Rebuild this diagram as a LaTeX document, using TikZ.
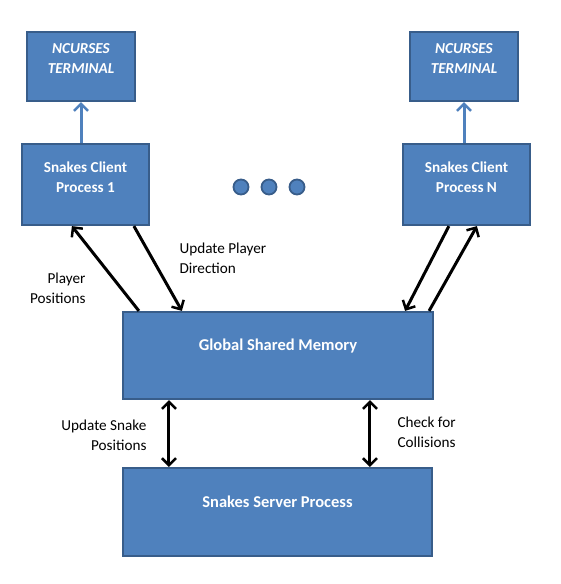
\documentclass[tikz,border=0pt]{standalone}
\usepackage{fontspec}
\setmainfont{Carlito}
\usetikzlibrary{arrows.meta}
\definecolor{boxfill}{HTML}{4F81BD}
\definecolor{boxline}{HTML}{385D8A}
\begin{document}
\begin{tikzpicture}[x=1pt,y=-1pt,
  box/.style={draw=boxline,fill=boxfill,line width=2.2pt,rectangle,inner sep=0pt},
  intext/.style={text=white,font=\fontsize{15.2}{20}\selectfont\bfseries,align=center},
  bigtext/.style={text=white,font=\fontsize{16.5}{20}\selectfont\bfseries,align=center},
  lbl/.style={font=\fontsize{15.2}{20}\selectfont},
  barrow/.style={line width=3pt,-{Straight Barb[length=7pt,width=14pt,line width=2.5pt]}},
  darrow/.style={line width=3pt,{Straight Barb[length=7pt,width=14pt,line width=2.5pt]}-{Straight Barb[length=7pt,width=14pt,line width=2.5pt]}},
  blarrow/.style={draw=boxfill,line width=3pt,-{Straight Barb[length=7pt,width=14pt,line width=2.5pt]}},
  dot/.style={circle,draw=boxline,fill=boxfill,line width=1.8pt,minimum size=15pt,inner sep=0pt}]
\useasboundingbox (0,0) rectangle (561,584);
\fill[white] (0,0) rectangle (561,584);

\node[box,minimum width=108pt,minimum height=69pt] (t1) at (81,66.5) {};
\node[box,minimum width=108pt,minimum height=69pt] (tN) at (464,66.5) {};
\node[box,minimum width=127pt,minimum height=81pt] (c1) at (85.5,184.5) {};
\node[box,minimum width=127pt,minimum height=81pt] (cN) at (466.5,184.5) {};
\node[box,minimum width=310pt,minimum height=87pt] (g) at (278,355.5) {};
\node[box,minimum width=309pt,minimum height=88pt] (s) at (277.5,512) {};

\node[intext,font=\fontsize{15.2}{20}\selectfont\bfseries\itshape] (t1t) at (81,59) {NCURSES\\TERMINAL};
\node[intext,font=\fontsize{15.2}{20}\selectfont\bfseries\itshape] (tNt) at (464,59) {NCURSES\\TERMINAL};
\node[intext] (c1t) at (85.5,177) {Snakes Client\\Process 1};
\node[intext] (cNt) at (466.5,177) {Snakes Client\\Process N};
\node[bigtext] (gt) at (278,346) {Global Shared Memory};
\node[bigtext] (st) at (277.5,502) {Snakes Server Process};

\node[dot] (d1) at (241,187) {};
\node[dot] (d2) at (269,187) {};
\node[dot] (d3) at (297,187) {};

\draw[blarrow] (c1.north -| t1.south) -- (t1.south);
\draw[blarrow] (cN.north -| tN.south) -- (tN.south);

\draw[barrow] ([xshift=17pt]g.north west) -- ([xshift=51pt]c1.south west);
\draw[barrow] ([xshift=113pt]c1.south west) -- ([xshift=60pt]g.north west);
\draw[barrow] ([xshift=47pt]cN.south west) -- ([xshift=-29pt]g.north east);
\draw[barrow] ([xshift=-5pt]g.north east) -- ([xshift=75pt]cN.south west);

\draw[darrow] ([xshift=47pt]g.south west) -- ([xshift=47pt]s.north west);
\draw[darrow] ([xshift=248pt]g.south west) -- ([xshift=248pt]s.north west);

\node[lbl,align=right,anchor=east] (lpp) at (89,288) {Player\\Positions};
\node[lbl,align=left,anchor=west] (lud) at (176,258) {Update Player\\Direction};
\node[lbl,align=right,anchor=east] (lus) at (150,435) {Update Snake\\Positions};
\node[lbl,align=left,anchor=west] (lcc) at (394,432) {Check for\\Collisions};
\end{tikzpicture}
\end{document}
